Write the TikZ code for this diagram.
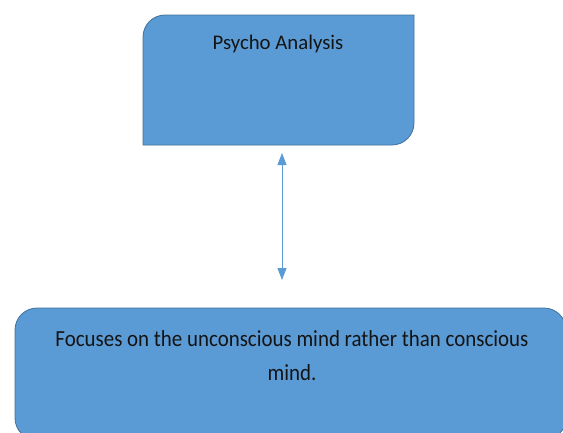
\documentclass[tikz,border=0pt]{standalone}
\usepackage{fontspec}
\setmainfont{Carlito}
\newfontfamily\narrowfont[FakeStretch=0.91]{Carlito}
\usetikzlibrary{arrows.meta}
\definecolor{boxfill}{HTML}{5B9BD5}
\definecolor{boxline}{HTML}{41719C}
\definecolor{arrowc}{HTML}{5B9BD5}
\definecolor{txt}{HTML}{141414}
\tikzset{
  boxstyle/.style={fill=boxfill, draw=boxline, line width=0.8pt},
  lbl/.style={text=txt, align=center, inner sep=0pt},
  conn/.style={draw=arrowc, line width=1pt, {Triangle[length=12pt,width=9pt]}-{Triangle[length=12pt,width=9pt]}}
}
\begin{document}
\begin{tikzpicture}[x=1pt,y=-1pt]
\useasboundingbox (0,0) rectangle (563,432);
% top box: rounded top-left and bottom-right corners
\draw[boxstyle] (143,145) -- (143,37) arc[start angle=180,end angle=270,radius=22] -- (414,15) -- (414,123) arc[start angle=0,end angle=90,radius=22] -- cycle;
\node[lbl, anchor=base, font=\fontsize{20.8}{25}\selectfont] (top) at (278,49) {Psycho Analysis};
\coordinate (topb) at (282,153);
% bottom box
\draw[boxstyle, rounded corners=22pt] (15,308) rectangle (566,440);
\node[lbl, anchor=base, font=\narrowfont\fontsize{23}{34}\selectfont] (bot) at (292,380) {Focuses on the unconscious mind rather than conscious\\mind.};
\coordinate (bott) at (282,280);
\draw[conn] (topb) -- (bott);
\end{tikzpicture}
\end{document}
